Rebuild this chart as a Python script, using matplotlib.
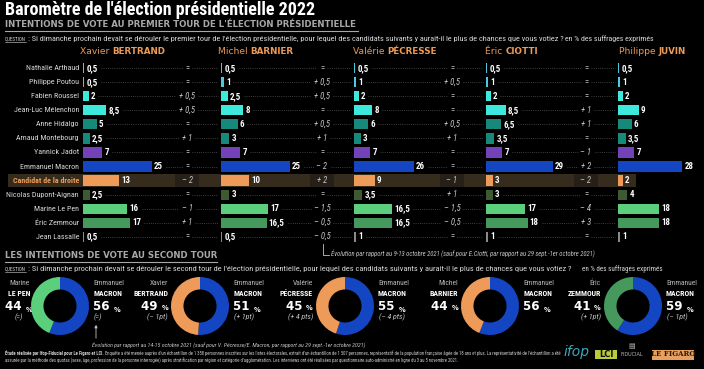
import matplotlib
matplotlib.use('Agg')
import matplotlib.pyplot as plt
from matplotlib import font_manager
from matplotlib.patches import Rectangle

# ---------------- DATA ----------------
candidates = ["Nathalie Arthaud", "Philippe Poutou", "Fabien Roussel", "Jean-Luc Mélenchon",
              "Anne Hidalgo", "Arnaud Montebourg", "Yannick Jadot", "Emmanuel Macron",
              "Candidat de la droite", "Nicolas Dupont-Aignan", "Marine Le Pen",
              "Éric Zemmour", "Jean Lassalle"]
bar_colors = ["#4cc8e0", "#4cc8e0", "#3ee8dc", "#3ee8dc", "#17897a", "#17897a", "#7442b8",
              "#1446c4", "#ee9a58", "#3e5a32", "#5ccf7c", "#46995c", "#8a8a8a"]

scenario_first = ["Xavier", "Michel", "Valérie", "Éric", "Philippe"]
scenario_last = ["BERTRAND", "BARNIER", "PÉCRESSE", "CIOTTI", "JUVIN"]

votes_bertrand = [0.5, 0.5, 2, 8.5, 5, 2.5, 7, 25, 13, 2.5, 16, 17, 0.5]
votes_barnier = [0.5, 1, 2.5, 8, 6, 3, 7, 25, 10, 3, 17, 16.5, 0.5]
votes_pecresse = [0.5, 1, 2, 8, 6, 3, 7, 26, 9, 3.5, 16.5, 16.5, 1]
votes_ciotti = [0.5, 1, 2, 8.5, 6.5, 3.5, 7, 29, 3, 3, 17, 18, 1]
votes_juvin = [0.5, 1, 2, 9, 6, 3.5, 7, 28, 2, 4, 18, 18, 1]

chg_bertrand = ["=", "=", "+ 0,5", "+ 0,5", "=", "+ 1", "=", "=", "– 2", "=", "– 1", "+ 1", "="]
chg_barnier = ["=", "+ 0,5", "+ 0,5", "=", "+ 0,5", "+ 1", "=", "– 2", "+ 2", "=", "– 1,5", "– 0,5", "– 0,5"]
chg_pecresse = ["=", "+ 0,5", "=", "=", "+ 0,5", "+ 1", "=", "=", "– 1", "+ 1", "– 1,5", "– 0,5", "="]
chg_ciotti = ["=", "=", "=", "+ 1", "+ 1", "=", "– 1", "+ 2", "– 2", "=", "– 4", "+ 3", "="]

all_votes = [votes_bertrand, votes_barnier, votes_pecresse, votes_ciotti, votes_juvin]
all_chg = [chg_bertrand, chg_barnier, chg_pecresse, chg_ciotti, None]

# second round
duel_first = ["Marine", "Xavier", "Valérie", "Michel", "Éric"]
duel_last = ["LE PEN", "BERTRAND", "PÉCRESSE", "BARNIER", "ZEMMOUR"]
duel_pct = [44, 49, 45, 44, 41]
duel_chg = ["(=)", "(– 1pt)", "(+ 4 pts)", "", "(+ 1pt)"]
macron_pct = [56, 51, 55, 56, 59]
macron_chg = ["(=)", "(+ 1pt)", "(– 4 pts)", "", "(– 1pt)"]
duel_colors = ["#5ccf7c", "#ee9a58", "#ee9a58", "#ee9a58", "#46995c"]
MACRON_BLUE = "#1446c4"

title = "Baromètre de l'élection présidentielle 2022"
sub1 = "INTENTIONS DE VOTE AU PREMIER TOUR DE L'ÉLECTION PRÉSIDENTIELLE"
sub2 = "LES INTENTIONS DE VOTE AU SECOND TOUR"
q1 = ": Si dimanche prochain devait se dérouler le premier tour de l'élection présidentielle, pour lequel des candidats suivants y aurait-il le plus de chances que vous votiez ?"
q2 = ": Si dimanche prochain devait se dérouler le second tour de l'élection présidentielle, pour lequel des candidats suivants y aurait-il le plus de chances que vous votiez ?"
qunit = "en % des suffrages exprimés"
note1 = "Évolution par rapport au 9-13 octobre 2021 (sauf pour E.Ciotti, par rapport au 29 sept.-1er octobre 2021)"
note2 = "Évolution par rapport au 14-15 octobre 2021 (sauf pour V. Pécresse/E. Macron, par rapport au 29 sept.-1er octobre 2021)"
foot_bold = "Étude réalisée par Ifop-Fiducial pour Le Figaro et LCI."
foot1 = (" Enquête a été menée auprès d'un échantillon de 1 358 personnes inscrites sur les listes électorales, "
         "extrait d'un échantillon de 1 507 personnes, représentatif de la population française âgée de 18 ans et plus. "
         "La représentativité de l'échantillon a été")
foot2 = ("assurée par la méthode des quotas (sexe, âge, profession de la personne interrogée) après stratification "
         "par région et catégorie d'agglomération. Les interviews ont été réalisées par questionnaire auto-administré "
         "en ligne du 3 au 5 novembre 2021.")

# ---------------- FONTS ----------------
def _w(w):
    if isinstance(w, (int, float)):
        return int(w)
    return font_manager.weight_dict.get(str(w).lower(), 400)


entries = {}
for f in font_manager.fontManager.ttflist:
    entries.setdefault(f.name, []).append(f)
narrow_names = [nm for nm in entries if ('Narrow' in nm or 'Condensed' in nm)]
good = [nm for nm in narrow_names
        if any(_w(f.weight) >= 600 and f.style == 'normal' for f in entries[nm])
        and any(_w(f.weight) <= 500 and f.style == 'normal' for f in entries[nm])]
pref = ['Liberation Sans Narrow', 'Roboto Condensed', 'Open Sans Condensed', 'Noto Sans Condensed']
good.sort(key=lambda nm: (pref.index(nm) if nm in pref else 99, nm))
if good:
    NARROW = good[0]
else:
    NARROW = 'Liberation Sans'
plt.rcParams['font.family'] = [NARROW, 'DejaVu Sans']

W, H, DPI = 704, 369, 100
fig = plt.figure(figsize=(W / DPI, H / DPI), dpi=DPI, facecolor='black')
ax0 = fig.add_axes([0, 0, 1, 1])
ax0.set_xlim(0, W)
ax0.set_ylim(H, 0)
ax0.axis('off')
ax0.set_facecolor('black')
renderer = fig.canvas.get_renderer()


def width_of(t):
    return t.get_window_extent(renderer).width


def fit(t, w):
    for _ in range(3):
        bw = width_of(t)
        if bw > 0:
            t.set_fontsize(t.get_fontsize() * w / bw)
    return t


def fit_size(sample, w, **kw):
    t = ax0.text(0, 0, sample, fontsize=6, **kw)
    fit(t, w)
    s = t.get_fontsize()
    t.remove()
    return s


GREY_TXT = '#d8d8d8'
ORANGE = '#ec9a56'

# ---------------- HEADER ----------------
fit(ax0.text(5, 10, title, color='white', fontweight='bold', fontsize=12, va='center', ha='left'), 310)
fit(ax0.text(5, 24.5, sub1, color='#a8a8a8', fontweight='bold', fontsize=6, va='center', ha='left',
             family='DejaVu Sans'), 352)
ax0.plot([5, 358], [30.5, 30.5], color='#a8a8a8', lw=0.8)

for yq, qtext, qend, ustart, uend in [(38.5, q1, 563, 565, 655), (268.5, q2, 580, 582, 663)]:
    fit(ax0.text(5, yq, "QUESTION", color=GREY_TXT, fontsize=4, va='center', ha='left'), 21)
    ax0.plot([5, 26], [yq + 3.2, yq + 3.2], color=GREY_TXT, lw=0.4)
    fit(ax0.text(28, yq, qtext, color=GREY_TXT, fontsize=6, va='center', ha='left'), qend - 28)
    fit(ax0.text(ustart, yq + 0.3, qunit, color=GREY_TXT, fontsize=5, va='center', ha='left'), uend - ustart)

# scenario headers
head_left = [80, 218, 353, 485, 619]
for k in range(5):
    t1 = ax0.text(head_left[k], 52, scenario_first[k] + " ", color=ORANGE, fontsize=6.6,
                  va='center', ha='left', family='DejaVu Sans')
    ax0.annotate(scenario_last[k], xy=(1, 0.5), xycoords=t1, va='center', ha='left', color=ORANGE,
                 fontsize=6.3, fontweight='bold', family='DejaVu Sans')

# ---------------- FIRST ROUND PANELS ----------------
panel_start = [83, 221, 354, 486, 618]
panel_end = [216, 350, 482, 614, 700]
panel_ppu = [2.76, 2.76, 2.30, 2.31, 2.29]
change_x = [187, 322, 452, 586]
y0, step = 68.3, 14.03
n = len(candidates)
row_y = [y0 + i * step for i in range(n)]
DROITE = candidates.index("Candidat de la droite")

# highlight band for "Candidat de la droite"
band_light, band_dark = '#352c1d', '#262018'
yb = row_y[DROITE]
edges = [8]
for cx in change_x:
    edges += [cx - 12, cx + 12]
edges.append(636)
for j in range(len(edges) - 1):
    col = band_light if j % 2 == 0 else band_dark
    ax0.add_patch(Rectangle((edges[j], yb - 6.3), edges[j + 1] - edges[j], 12.6, color=col, lw=0, zorder=0))

# candidate labels, sized so the longest fits the label column
label_size = fit_size("Nicolas Dupont-Aignan", 73)
for i, c in enumerate(candidates):
    ax0.text(79, row_y[i], c, ha='right', va='center', fontsize=label_size,
             color=ORANGE if i == DROITE else GREY_TXT, fontweight='bold' if i == DROITE else 'normal')


def fmt(v):
    return f"{v:g}".replace('.', ',')


value_size = fit_size("8,5", 11.5, fontweight='bold')
chg_size = fit_size("+ 0,5", 16, style='italic')

value_labels = []
change_labels = []
for k in range(5):
    x0p, x1p = panel_start[k], panel_end[k]
    top = y0 - step / 2
    axp = fig.add_axes([x0p / W, 1 - (top + n * step) / H, (x1p - x0p) / W, n * step / H])
    axp.set_facecolor('none')
    axp.axis('off')
    axp.set_xlim(0, (x1p - x0p) / panel_ppu[k])
    axp.set_ylim(n - 0.5, -0.5)
    axp.barh(range(n), all_votes[k], height=0.72, color=bar_colors, linewidth=0)
    labs = []
    for i, v in enumerate(all_votes[k]):
        labs.append(axp.annotate(fmt(v), xy=(v, i), xytext=(1.6, 0), textcoords='offset points',
                                 va='center', ha='left', color='white', fontweight='bold', fontsize=value_size))
    value_labels.append(labs)
    if all_chg[k] is not None:
        cl = []
        for i, s in enumerate(all_chg[k]):
            cl.append(ax0.text(change_x[k], row_y[i], s, ha='center', va='center', color='#c4c4c4',
                               fontsize=chg_size, style='normal' if s == '=' else 'italic'))
        change_labels.append(cl)

# dotted leader lines
fig.canvas.draw()
for k in range(5):
    for i in range(n):
        if i == DROITE:
            continue
        lx = value_labels[k][i].get_window_extent(renderer).x1 + 3
        segs = []
        if k < 4:
            cb = change_labels[k][i].get_window_extent(renderer)
            segs.append((lx, cb.x0 - 3))
            segs.append((cb.x1 + 3, panel_start[k + 1] - 3))
        for a, b in segs:
            if b - a > 3:
                ax0.plot([a, b], [row_y[i], row_y[i]], color='#555555', lw=0.6,
                         linestyle=(0, (1, 1.6)), zorder=1)

# note under first round
ax0.plot([323, 323, 329], [243.5, 254.5, 254.5], color='#c4c4c4', lw=0.6)
fit(ax0.text(331, 254, note1, color='#c4c4c4', style='italic', fontsize=5, va='center', ha='left'), 269)

# ---------------- SECOND ROUND ----------------
fit(ax0.text(5, 255.5, sub2, color='#a8a8a8', fontweight='bold', fontsize=6, va='center', ha='left',
             family='DejaVu Sans'), 212)
ax0.plot([5, 217], [262, 262], color='#a8a8a8', lw=0.8)

first_size = fit_size("Emmanuel", 31)
last_size = fit_size("MACRON", 29, fontweight='bold')
dchg_size = fit_size("(– 1pt)", 21, style='italic')
PCT, PSIGN = 8.6, 4.8

donut_cx = [60, 200, 345, 490, 633]
cy, r = 306, 29
for k in range(5):
    cx = donut_cx[k]
    axd = fig.add_axes([(cx - r) / W, 1 - (cy + r) / H, 2 * r / W, 2 * r / H])
    axd.pie([macron_pct[k], duel_pct[k]], colors=[MACRON_BLUE, duel_colors[k]], startangle=90,
            counterclock=False, wedgeprops=dict(width=0.43, linewidth=0))
    axd.set_xlim(-1, 1)
    axd.set_ylim(-1, 1)
    axd.set_aspect('equal')
    axd.axis('off')

    # left block (challenger)
    if k == 0:
        lx, ha = 19, 'center'
    else:
        lx, ha = cx - r - 3, 'right'
    ax0.text(lx, 283, duel_first[k], ha=ha, va='center', color='#b4b4b4', fontsize=first_size)
    ax0.text(lx, 293, duel_last[k], ha=ha, va='center', color='white', fontweight='bold', fontsize=last_size)
    if ha == 'right':
        tp = ax0.text(lx, 309.5, "%", ha='right', va='baseline', color='white', fontweight='bold',
                      fontsize=PSIGN, family='DejaVu Sans')
        ax0.annotate(f"{duel_pct[k]} ", xy=(0, 0), xycoords=tp, ha='right', va='baseline', color='white',
                     fontweight='bold', fontsize=PCT, family='DejaVu Sans')
    else:
        tn = ax0.text(lx - 4, 309.5, f"{duel_pct[k]} ", ha='center', va='baseline', color='white',
                      fontweight='bold', fontsize=PCT, family='DejaVu Sans')
        ax0.annotate("%", xy=(1, 0), xycoords=tn, ha='left', va='baseline', color='white',
                     fontweight='bold', fontsize=PSIGN, family='DejaVu Sans')
    if duel_chg[k]:
        ax0.text(lx, 317.5, duel_chg[k], ha=ha, va='center', color='#c4c4c4', style='italic', fontsize=dchg_size)

    # right block (Macron)
    rx = cx + r + 4
    ax0.text(rx, 283, "Emmanuel", ha='left', va='center', color='#b4b4b4', fontsize=first_size)
    ax0.text(rx, 293, "MACRON", ha='left', va='center', color='white', fontweight='bold', fontsize=last_size)
    tn = ax0.text(rx, 309.5, f"{macron_pct[k]} ", ha='left', va='baseline', color='white', fontweight='bold',
                  fontsize=PCT, family='DejaVu Sans')
    ax0.annotate("%", xy=(1, 0), xycoords=tn, ha='left', va='baseline', color='white',
                 fontweight='bold', fontsize=PSIGN, family='DejaVu Sans')
    if macron_chg[k]:
        ax0.text(rx + 1, 317.5, macron_chg[k], ha='left', va='center', color='#c4c4c4', style='italic',
                 fontsize=dchg_size)

# arrow + note under second round
ax0.annotate('', xy=(96, 322), xytext=(96, 341),
             arrowprops=dict(arrowstyle='-|>', color='#c4c4c4', lw=0.6, mutation_scale=4))
fit(ax0.text(92, 345, note2, color='#c4c4c4', style='italic', fontsize=5, va='center', ha='left'), 266)

# ---------------- FOOTER ----------------
fb = ax0.text(5, 353, foot_bold, color='#d0d0d0', fontweight='bold', fontsize=4, va='center', ha='left')
fr = ax0.annotate(foot1, xy=(1, 0.5), xycoords=fb, va='center', ha='left', color='#d0d0d0', fontsize=4)
for _ in range(3):
    sc = 556 / (width_of(fb) + width_of(fr))
    fb.set_fontsize(fb.get_fontsize() * sc)
    fr.set_fontsize(fr.get_fontsize() * sc)
fit(ax0.text(5, 361.5, foot2, color='#d0d0d0', fontsize=4, va='center', ha='left'), 450)

# logos
ax0.text(564, 352, "ifop", color='#3aa8b8', fontsize=10, style='italic', va='center', ha='left',
         family='DejaVu Sans')
ax0.add_patch(Rectangle((595, 349.5), 22, 9.5, color='#b8cc3c', lw=0))
ax0.text(606, 354.3, "LCI", color='#101010', fontsize=6, fontweight='bold', va='center', ha='center',
         family='DejaVu Sans')
ax0.text(632, 346.5, "\u25a4", color='#bbbbbb', fontsize=5, va='center', ha='center', family='DejaVu Sans')
ax0.text(632, 355, "FIDUCIAL", color='#bbbbbb', fontsize=3.6, va='center', ha='center', family='DejaVu Sans')
ax0.add_patch(Rectangle((652, 349.5), 42, 10, color='#e8a060', lw=0))
ax0.text(673, 354.5, "LE FIGARO", color='#2a1a0a', fontsize=5, fontweight='bold', va='center', ha='center',
         family='DejaVu Serif')

fig.savefig('out.png', dpi=DPI, facecolor='black')
